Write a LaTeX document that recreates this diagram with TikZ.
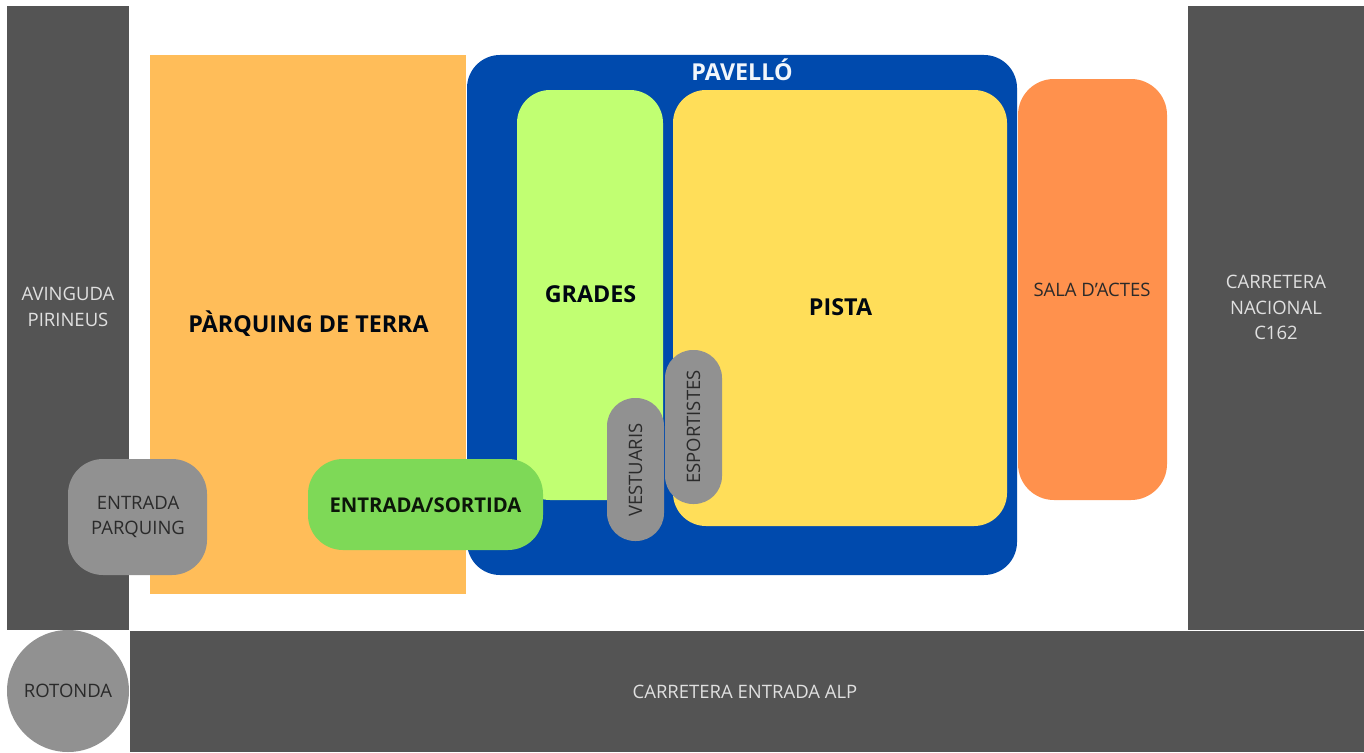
\documentclass[tikz,border=0pt]{standalone}
\usepackage{fontspec}
\setmainfont{Open Sans}
\definecolor{road}{HTML}{545454}
\definecolor{chip}{HTML}{919191}
\definecolor{inkd}{HTML}{2A2A2A}
\definecolor{parkc}{HTML}{FFBD59}
\definecolor{pavc}{HTML}{004AAD}
\definecolor{gradc}{HTML}{C1FF72}
\definecolor{pistc}{HTML}{FFDE59}
\definecolor{salac}{HTML}{FF914D}
\definecolor{entc}{HTML}{7ED957}
\tikzset{
  x=1pt,y=-1pt,
  area/.style={draw=none,inner sep=0pt,outer sep=0pt,align=center,font=\fontsize{18.5}{25.5}\selectfont},
  boldlabel/.style={font=\fontsize{23.3}{26}\selectfont\bfseries,text=black!90!pavc},
  freelabel/.style={inner sep=0pt,outer sep=0pt}
}
\newcommand{\boxat}[7]{% name, x0, y0, x1, y1, radius, style
  \path[fill=#7,rounded corners=#6pt] (#2,#3) rectangle (#4,#5);
  \coordinate (#1) at ({(#2+#4)/2},{(#3+#5)/2});
}
\begin{document}
\begin{tikzpicture}
\useasboundingbox (0,0) rectangle (1364,752);
\fill[white] (0,0) rectangle (1364,752);
% roads
\boxat{ravi}{7}{6}{129}{630}{0}{road}
\boxat{rnac}{1188}{6}{1364}{630}{0}{road}
\boxat{rent}{130}{631}{1364}{752}{0}{road}
\node[area,shape=circle,fill=chip,minimum size=122pt,text=inkd] (rotonda) at (68,691) {ROTONDA};
% site
\boxat{park}{150}{55}{466}{594}{0}{parkc}
\boxat{pav}{467}{55}{1017}{575}{33}{pavc}
\boxat{grad}{517}{90}{663}{500}{33}{gradc}
\boxat{pist}{673}{90}{1007}{526}{33}{pistc}
\boxat{sala}{1018}{79}{1167}{500}{36}{salac}
\boxat{entp}{68}{459}{207}{575}{35}{chip}
\boxat{ents}{308}{459}{543}{550}{35}{entc}
\boxat{vest}{607}{398}{664}{541}{28}{chip}
\boxat{espo}{665}{350}{722}{504}{28}{chip}
% labels
\node[freelabel,area,text=white!88!black] (tavi) at (68,307) {AVINGUDA\\PIRINEUS};
\node[freelabel,area,text=white!88!black] (tnac) at (1276,307.5) {CARRETERA\\NACIONAL\\C162};
\node[freelabel,area,text=white!88!black] (tent) at (745,692) {CARRETERA ENTRADA ALP};
\node[freelabel,boldlabel] (tpark) at (308.5,324) {PÀRQUING DE TERRA};
\node[freelabel,boldlabel,text=white!95!pavc] (tpav) at (742,70) {PAVELLÓ};
\node[freelabel,boldlabel] (tgrad) at (590.5,294) {GRADES};
\node[freelabel,boldlabel] (tpist) at (840.5,307) {PISTA};
\node[freelabel,area,text=inkd] (tsala) at (1092,289.5) {SALA D’ACTES};
\node[freelabel,area,text=inkd] (tentp) at (138,517) {ENTRADA\\PARQUING};
\node[freelabel,font=\fontsize{20.3}{24}\selectfont\bfseries,text=black!90!entc] (tents) at (425.5,505) {ENTRADA/SORTIDA};
\node[freelabel,area,rotate=90,text=inkd] (tvest) at (635.5,470) {VESTUARIS};
\node[freelabel,area,rotate=90,text=inkd] (tespo) at (693.5,427) {ESPORTISTES};
\end{tikzpicture}
\end{document}
